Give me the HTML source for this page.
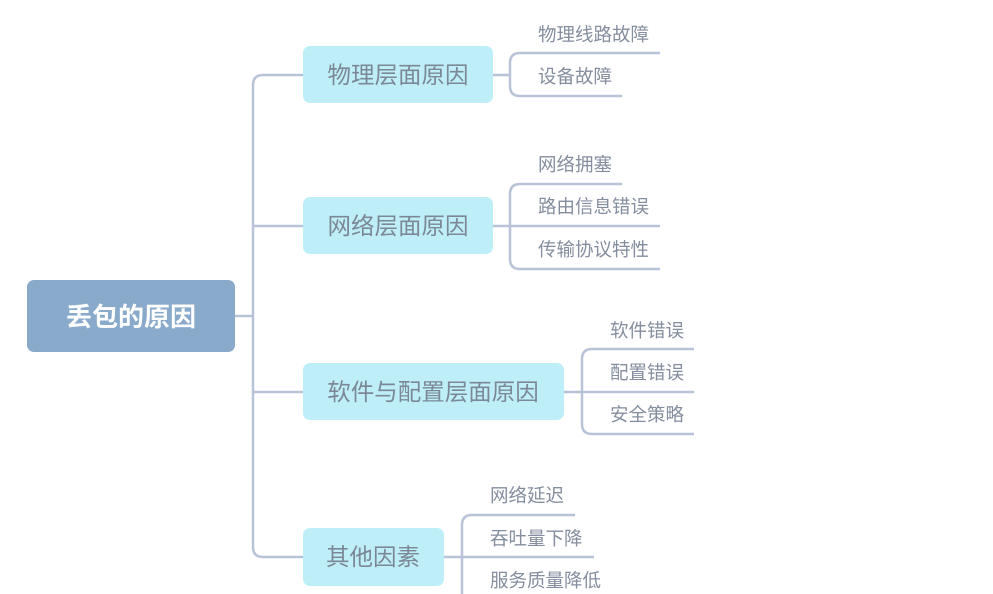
<!DOCTYPE html>
<html><head><meta charset="utf-8"><style>
html,body{margin:0;padding:0;background:#fff;width:993px;height:594px;overflow:hidden}
text{font-family:"Liberation Sans","Noto Sans CJK SC",sans-serif}
</style></head><body>
<svg width="993" height="594" viewBox="0 0 993 594" xmlns="http://www.w3.org/2000/svg">
<g fill="none" stroke="#b8c3d7" stroke-width="2.5">
<path d="M235 316H253"/>
<path d="M303 75H263Q253 75 253 85V547Q253 557 263 557H303"/>
<path d="M253 226H303"/>
<path d="M253 392H303"/>
<path d="M493 75H510"/>
<path d="M660 53H520Q510 53 510 63V86Q510 96 520 96H622"/>
<path d="M493 226H660"/>
<path d="M622 184H520Q510 184 510 194V259Q510 269 520 269H660"/>
<path d="M564 392H694"/>
<path d="M694 349H592Q582 349 582 359V424Q582 434 592 434H694"/>
<path d="M444 557H594"/>
<path d="M575 515H472Q462 515 462 525V600"/>
</g>
<rect x="27" y="280" width="208" height="72" rx="7" fill="#8aaacb"/>
<text x="131" y="326" font-size="26" font-weight="bold" fill="#fff" text-anchor="middle">丢包的原因</text>
<g fill="#beeff8">
<rect x="303" y="46" width="190" height="57" rx="7"/>
<rect x="303" y="197" width="190" height="57" rx="7"/>
<rect x="303" y="363" width="261" height="57" rx="7"/>
<rect x="303" y="528" width="141" height="58" rx="7"/>
</g>
<g font-size="23.5" fill="#7c8898" text-anchor="middle">
<text x="398" y="83">物理层面原因</text>
<text x="398" y="234">网络层面原因</text>
<text x="433" y="400">软件与配置层面原因</text>
<text x="373" y="565">其他因素</text>
</g>
<g font-size="18.5" fill="#848e9e">
<text x="538" y="41">物理线路故障</text>
<text x="538" y="83">设备故障</text>
<text x="538" y="171">网络拥塞</text>
<text x="538" y="213">路由信息错误</text>
<text x="538" y="256">传输协议特性</text>
<text x="610" y="337">软件错误</text>
<text x="610" y="379">配置错误</text>
<text x="610" y="421">安全策略</text>
<text x="490" y="502">网络延迟</text>
<text x="490" y="545">吞吐量下降</text>
<text x="490" y="587">服务质量降低</text>
</g>
</svg>
</body></html>
